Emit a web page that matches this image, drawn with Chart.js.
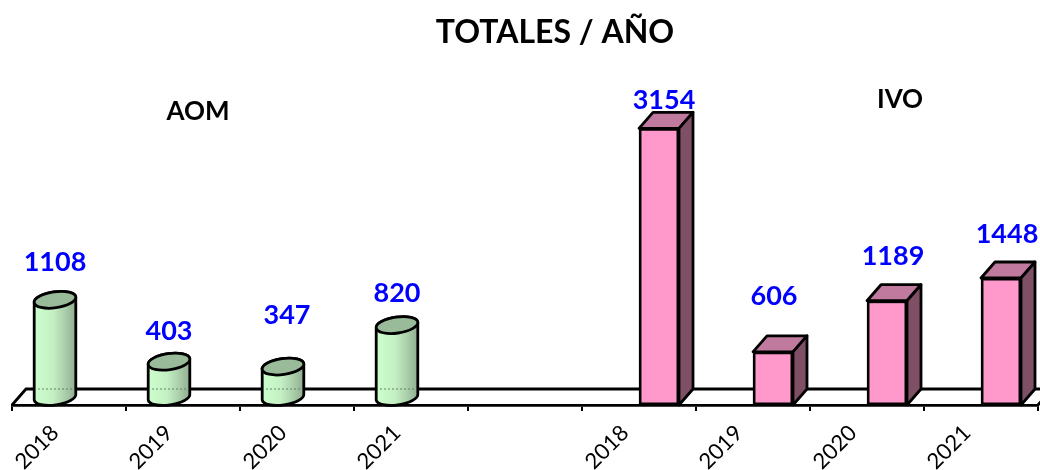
<!DOCTYPE html>
<html>
<head>
<meta charset="utf-8">
<title>Totales / Año</title>
<script src="https://cdn.jsdelivr.net/npm/chart.js@4"></script>
<style>
    html, body { margin: 0; padding: 0; background: #fff; }
    canvas { display: block; }
</style>
</head>
<body>
<canvas id="chart" width="1040" height="470"></canvas>
<script>
// values; slot 5 is the gap between the two groups
const categories = ['2018', '2019', '2020', '2021', '', '2018', '2019', '2020', '2021'];
const aomValues = [1108, 403, 347, 820, null, null, null, null, null];
const ivoValues = [null, null, null, null, null, 3154, 606, 1189, 1448];

// value labels were placed by hand in the original: lift above the bar top, sideways nudge
const aomLabelLift = [46, 38, 59, 40];
const aomLabelNudge = [6, 6, 10, 6];
const ivoLabelLift = [28, 56, 44, 44];
const ivoLabelNudge = [5, 1, 6, 6];

const DEPTH_X = 14;
const DEPTH_Y = 16;
const LINE = 2.8;
const FONT = 'Lato, sans-serif';

function drawFloor(ctx, area) {
    const backY = area.bottom - DEPTH_Y;
    ctx.strokeStyle = '#000';
    ctx.lineWidth = LINE;
    ctx.beginPath();
    ctx.moveTo(area.left, area.bottom);
    ctx.lineTo(area.left + DEPTH_X, backY);
    ctx.lineTo(1040, backY);
    ctx.moveTo(area.right, area.bottom);
    ctx.lineTo(area.right + DEPTH_X, backY);
    ctx.stroke();
}

function drawCylinder(ctx, bar) {
    const cx = bar.x + 6;
    const rx = 21;
    const ry = 8;
    const tilt = -0.14;
    const topY = bar.y - ry;
    const bottomY = bar.base - ry;

    const body = ctx.createLinearGradient(cx - rx, 0, cx + rx, 0);
    body.addColorStop(0, '#ccffcc');
    body.addColorStop(0.45, '#c4f0c4');
    body.addColorStop(0.7, '#aed3ae');
    body.addColorStop(1, '#8fad8f');

    ctx.beginPath();
    ctx.ellipse(cx, bottomY, rx, ry, tilt, 0, Math.PI);
    ctx.ellipse(cx, topY, rx, ry, tilt, Math.PI, 2 * Math.PI);
    ctx.closePath();
    ctx.fillStyle = body;
    ctx.fill();

    // the floor's back line shows faintly through the cylinder
    const backY = bar.base - DEPTH_Y;
    ctx.strokeStyle = 'rgba(90,120,90,0.6)';
    ctx.lineWidth = 1.5;
    ctx.setLineDash([2, 2]);
    ctx.beginPath();
    ctx.moveTo(cx - rx + 4, backY);
    ctx.lineTo(cx + rx - 2, backY);
    ctx.stroke();
    ctx.setLineDash([]);

    ctx.beginPath();
    ctx.ellipse(cx, bottomY, rx, ry, tilt, 0, Math.PI);
    ctx.ellipse(cx, topY, rx, ry, tilt, Math.PI, 2 * Math.PI);
    ctx.closePath();
    ctx.strokeStyle = '#000';
    ctx.lineWidth = LINE;
    ctx.stroke();

    ctx.beginPath();
    ctx.ellipse(cx, topY, rx, ry, tilt, 0, 2 * Math.PI);
    ctx.fillStyle = '#99bb99';
    ctx.fill();
    ctx.stroke();
}

function drawBoxFaces(ctx, bar) {
    const left = bar.x - bar.width / 2;
    const right = bar.x + bar.width / 2;
    ctx.strokeStyle = '#000';
    ctx.lineWidth = LINE;
    ctx.lineJoin = 'round';

    ctx.beginPath();
    ctx.moveTo(left, bar.y);
    ctx.lineTo(left + DEPTH_X, bar.y - DEPTH_Y);
    ctx.lineTo(right + DEPTH_X, bar.y - DEPTH_Y);
    ctx.lineTo(right, bar.y);
    ctx.closePath();
    ctx.fillStyle = '#bf7a9e';
    ctx.fill();
    ctx.stroke();

    ctx.beginPath();
    ctx.moveTo(right, bar.y);
    ctx.lineTo(right + DEPTH_X, bar.y - DEPTH_Y);
    ctx.lineTo(right + DEPTH_X, bar.base - DEPTH_Y);
    ctx.lineTo(right, bar.base);
    ctx.closePath();
    ctx.fillStyle = '#7f4f66';
    ctx.fill();
    ctx.stroke();
}

function drawValueLabels(ctx, meta, values, lifts, nudges, start) {
    ctx.font = 'bold 27px ' + FONT;
    ctx.fillStyle = '#0000ff';
    ctx.textAlign = 'center';
    ctx.textBaseline = 'middle';
    lifts.forEach((lift, i) => {
        const bar = meta.data[start + i];
        ctx.fillText(values[start + i], bar.x + nudges[i], bar.y - lift);
    });
}

const solidChart = {
    id: 'solidChart',
    beforeDatasetsDraw(chart) {
        drawFloor(chart.ctx, chart.chartArea);
    },
    afterDatasetsDraw(chart) {
        const ctx = chart.ctx;
        const aomMeta = chart.getDatasetMeta(0);
        const ivoMeta = chart.getDatasetMeta(1);
        ctx.save();
        for (let i = 0; i < 4; i++) drawCylinder(ctx, aomMeta.data[i]);
        for (let i = 5; i < 9; i++) drawBoxFaces(ctx, ivoMeta.data[i]);
        drawValueLabels(ctx, aomMeta, aomValues, aomLabelLift, aomLabelNudge, 0);
        drawValueLabels(ctx, ivoMeta, ivoValues, ivoLabelLift, ivoLabelNudge, 5);

        ctx.fillStyle = '#000';
        ctx.font = 'bold 32px ' + FONT;
        ctx.fillText('TOTALES / AÑO', 555, 33);
        ctx.font = 'bold 26px ' + FONT;
        ctx.fillText('AOM', 198, 112);
        ctx.fillText('IVO', 900, 100);
        ctx.restore();
    }
};

new Chart(document.getElementById('chart'), {
    type: 'bar',
    data: {
        labels: categories,
        datasets: [
            {
                label: 'AOM',
                data: aomValues,
                backgroundColor: 'rgba(0,0,0,0)',
                borderWidth: 0,
                barThickness: 40
            },
            {
                label: 'IVO',
                data: ivoValues,
                backgroundColor: '#ff99cc',
                borderColor: '#000',
                borderWidth: LINE,
                borderSkipped: false,
                barThickness: 40
            }
        ]
    },
    options: {
        responsive: false,
        animation: false,
        layout: { padding: { left: 12, right: 2, top: 98, bottom: 0 } },
        plugins: {
            legend: { display: false },
            title: { display: false },
            tooltip: { enabled: false }
        },
        scales: {
            x: {
                afterFit(scale) { scale.height = 65; },
                border: { color: '#000', width: LINE },
                grid: {
                    drawOnChartArea: false,
                    color: '#000',
                    lineWidth: 2,
                    tickLength: 6
                },
                ticks: {
                    color: '#000',
                    font: { family: FONT, size: 22 },
                    minRotation: 45,
                    maxRotation: 45,
                    labelOffset: -14,
                    padding: 9,
                    autoSkip: false
                }
            },
            y: { display: false, min: 0, max: 3500 }
        }
    },
    plugins: [solidChart]
});
</script>
</body>
</html>
